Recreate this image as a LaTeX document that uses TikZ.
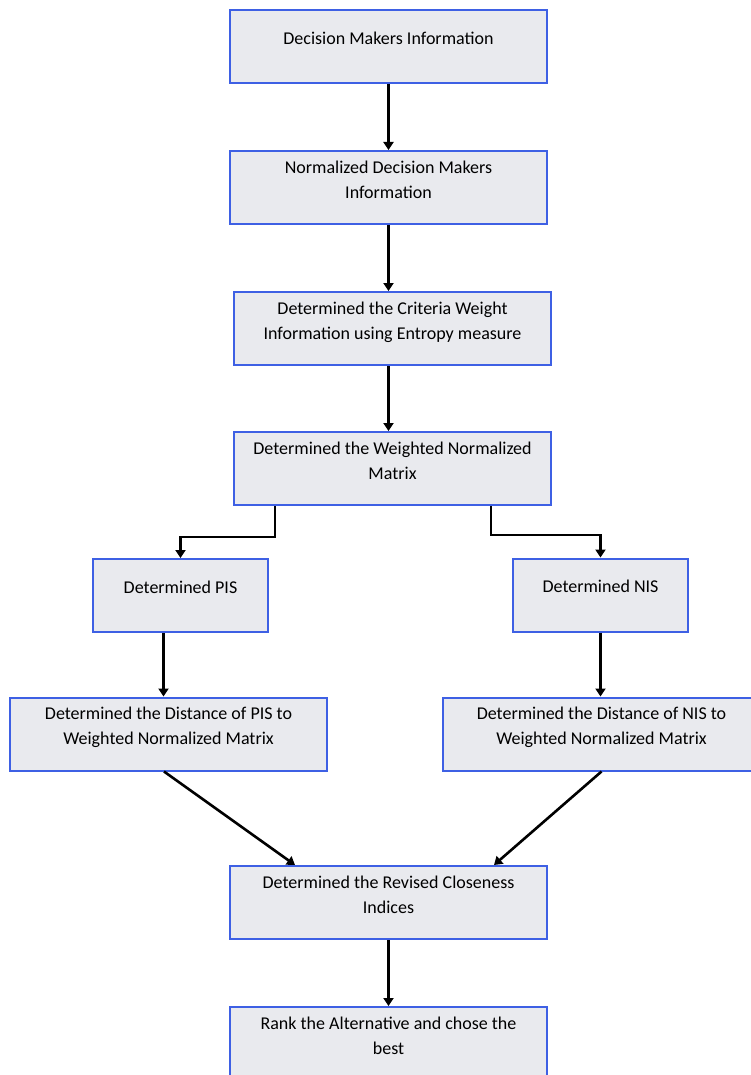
\documentclass[tikz,border=0pt]{standalone}
\usepackage{fontspec}
\setmainfont{Carlito}
\usepackage{xcolor}
\usetikzlibrary{arrows.meta, positioning, calc}
\definecolor{stepBlue}{RGB}{62, 96, 228}
\definecolor{stepGray}{RGB}{233, 234, 238}

\begin{document}
\begin{tikzpicture}[
        node distance=66pt,
        box/.style={rectangle, draw=stepBlue, line width=2pt, fill=stepGray, minimum width=317pt, minimum height=73pt, inner sep=2pt, align=center, font=\fontsize{18}{25}\selectfont, text depth=16pt},
        onebox/.style={box, text depth=17pt},
        smallbox/.style={onebox, minimum width=175pt},
        arrow/.style={-{Triangle[width=10pt,length=8pt]}, line width=2.6pt, black}
    ]
        \useasboundingbox (0,0) rectangle (750pt,-1075pt);

        \node[onebox] (dmi) at (388.5pt,-46.5pt) {Decision Makers Information};
        \node[box, below=of dmi] (norm) {Normalized Decision Makers\\Information};
        \node[box, below=of norm, xshift=4pt] (weight) {Determined the Criteria Weight\\Information using Entropy measure};
        \node[box, below=65pt of weight] (wnm) {Determined the Weighted Normalized\\Matrix};

        \node[smallbox] (pis) at (180.5pt,-595.5pt) {Determined PIS};
        \node[smallbox] (nis) at (600.5pt,-595pt) {Determined NIS};
        \node[box] (pisd) at (168.5pt,-734pt) {Determined the Distance of PIS to\\Weighted Normalized Matrix};
        \node[box] (nisd) at (601.5pt,-734pt) {Determined the Distance of NIS to\\Weighted Normalized Matrix};

        \node[box] (rci) at (388.5pt,-902.5pt) {Determined the Revised Closeness\\Indices};
        \node[box, below=of rci, minimum height=74pt] (rank) {Rank the Alternative and chose the\\best};

        \draw[arrow] (dmi) -- (norm);
        \draw[arrow] (norm.south) -- (norm.south |- weight.north);
        \draw[arrow] (weight.south -| norm) -- (wnm.north -| norm);
        \draw[arrow] ([xshift=-117.5pt]wnm.south) -- ++(0,-31pt) -| (pis.north);
        \draw[arrow] ([xshift=98.5pt]wnm.south) -- ++(0,-29pt) -| (nis.north);
        \draw[arrow] ([xshift=-17pt]pis.south) -- ([xshift=-17pt]pis.south |- pisd.north);
        \draw[arrow] (nis.south) -- (nis.south |- nisd.north);
        \draw[arrow] ([xshift=-4.5pt]pisd.south) -- ([xshift=-93.5pt]rci.north);
        \draw[arrow] (nisd.south) -- ([xshift=105.5pt]rci.north);
        \draw[arrow] (rci) -- (rank);
    \end{tikzpicture}
\end{document}
